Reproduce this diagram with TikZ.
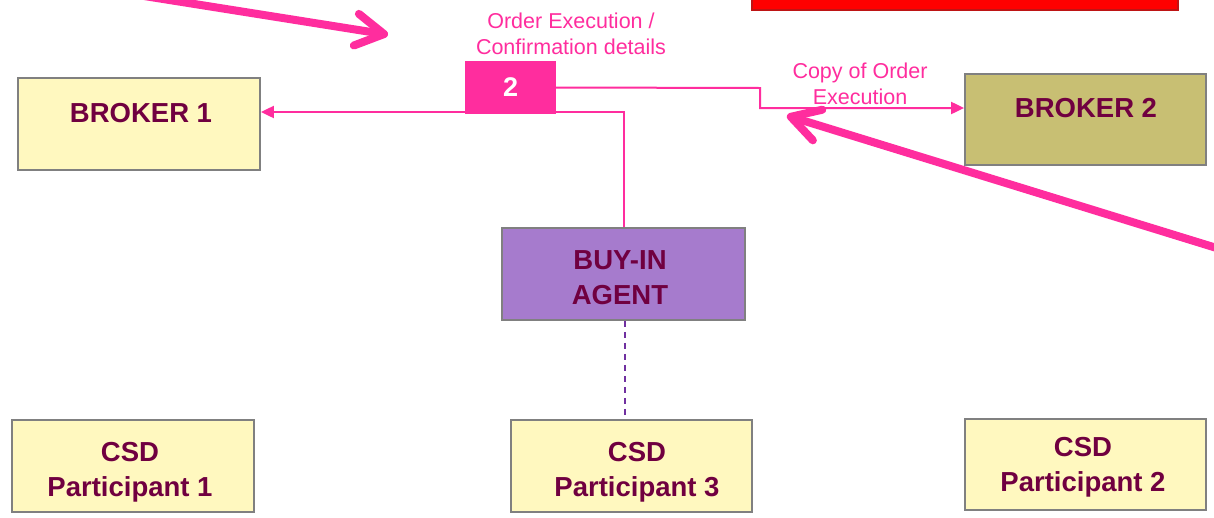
\documentclass[tikz,border=0pt]{standalone}
\usepackage{fontspec}
\setmainfont{Liberation Sans}
\usetikzlibrary{arrows.meta}

\definecolor{hotpink}{RGB}{255,45,158}
\definecolor{maroon}{RGB}{112,0,64}
\definecolor{paleyellow}{RGB}{255,248,191}
\definecolor{olive}{RGB}{200,191,115}
\definecolor{lavender}{RGB}{166,123,205}
\definecolor{boxgray}{RGB}{128,128,128}
\definecolor{darkpurple}{RGB}{112,48,160}
\definecolor{alertred}{RGB}{255,0,0}
\definecolor{alertedge}{RGB}{190,20,20}

\tikzset{
  actor/.style={draw=boxgray, line width=1.8pt, inner sep=0pt},
  actortext/.style={text=maroon, font=\bfseries\fontsize{27.5}{35}\selectfont, align=center, inner sep=0pt},
  flowlabel/.style={text=hotpink, font=\fontsize{21.5}{26}\selectfont, align=center, inner sep=0pt},
  flow/.style={draw=hotpink, line width=2pt, -{Triangle[length=13pt,width=12pt]}},
  bigarrow/.style={draw=hotpink, line width=8pt, line cap=round,
    -{Straight Barb[length=28pt,width=32pt,line cap=round,line join=round]}},
  link/.style={draw=darkpurple, line width=2.2pt, dash pattern=on 6pt off 5pt},
}

\begin{document}
\begin{tikzpicture}[x=1pt,y=-1pt]
  \path[use as bounding box] (0,0) rectangle (1214,517);
  \fill[white] (0,0) rectangle (1214,517);
  \begin{scope}
  \clip (0,0) rectangle (1214,517);

  % alert banner running off the top edge
  \draw[fill=alertred, draw=alertedge, line width=1.5pt] (752,-20) rectangle (1178,10);

  % parties
  \node[actor, fill=paleyellow, minimum width=242pt, minimum height=92pt] (broker1) at (139,124) {};
  \node[actortext] (broker1txt) at (141,113) {BROKER 1};

  \node[actor, fill=olive, minimum width=241pt, minimum height=91pt] (broker2) at (1085.5,119.5) {};
  \node[actortext] (broker2txt) at (1086,108) {BROKER 2};

  \node[actor, fill=lavender, minimum width=243pt, minimum height=92pt] (buyin) at (623.5,274) {};
  \node[actortext] (buyintxt) at (620,278) {BUY-IN\\AGENT};

  \node[actor, fill=paleyellow, minimum width=242pt, minimum height=92pt] (csd1) at (133,466) {};
  \node[actortext] (csd1txt) at (130,472.5) {CSD\\Participant 1};

  \node[actor, fill=paleyellow, minimum width=241pt, minimum height=92pt] (csd3) at (631.5,466) {};
  \node[actortext] (csd3txt) at (637,472.5) {CSD\\Participant 3};

  \node[actor, fill=paleyellow, minimum width=241pt, minimum height=91pt] (csd2) at (1085.5,464.5) {};
  \node[actortext] (csd2txt) at (1083,467) {CSD\\Participant 2};

  % message flows
  \draw[flow] (buyin.north) |- ([yshift=12pt]broker1.east);
  \coordinate (bend) at (760,88);
  \node[fill=hotpink, minimum width=91pt, minimum height=53pt, inner sep=0pt,
        text=white, font=\bfseries\fontsize{27}{30}\selectfont] (step2) at (510.5,87.5) {2};
  \draw[flow] (step2.east) -- (bend) |- ([yshift=11.5pt]broker2.west);

  \node[flowlabel] (lblconfirm) at (571,33.5) {Order Execution /\\Confirmation details};
  \node[flowlabel] (lblcopy) at (860,84) {Copy of Order\\Execution};

  % account link
  \draw[link] ([xshift=1.5pt]buyin.south) -- ([xshift=1.5pt]buyin.south |- csd3.north);

  % highlight arrows
  \coordinate (hlAstart) at (100,-11);
  \coordinate (hlAend) at (388,34.7);
  \draw[bigarrow] (hlAstart) -- (hlAend);
  \coordinate (hlBstart) at (1262,262);
  \coordinate (hlBend) at (787,115.6);
  \draw[bigarrow] (hlBstart) -- (hlBend);
  \end{scope}
\end{tikzpicture}
\end{document}
